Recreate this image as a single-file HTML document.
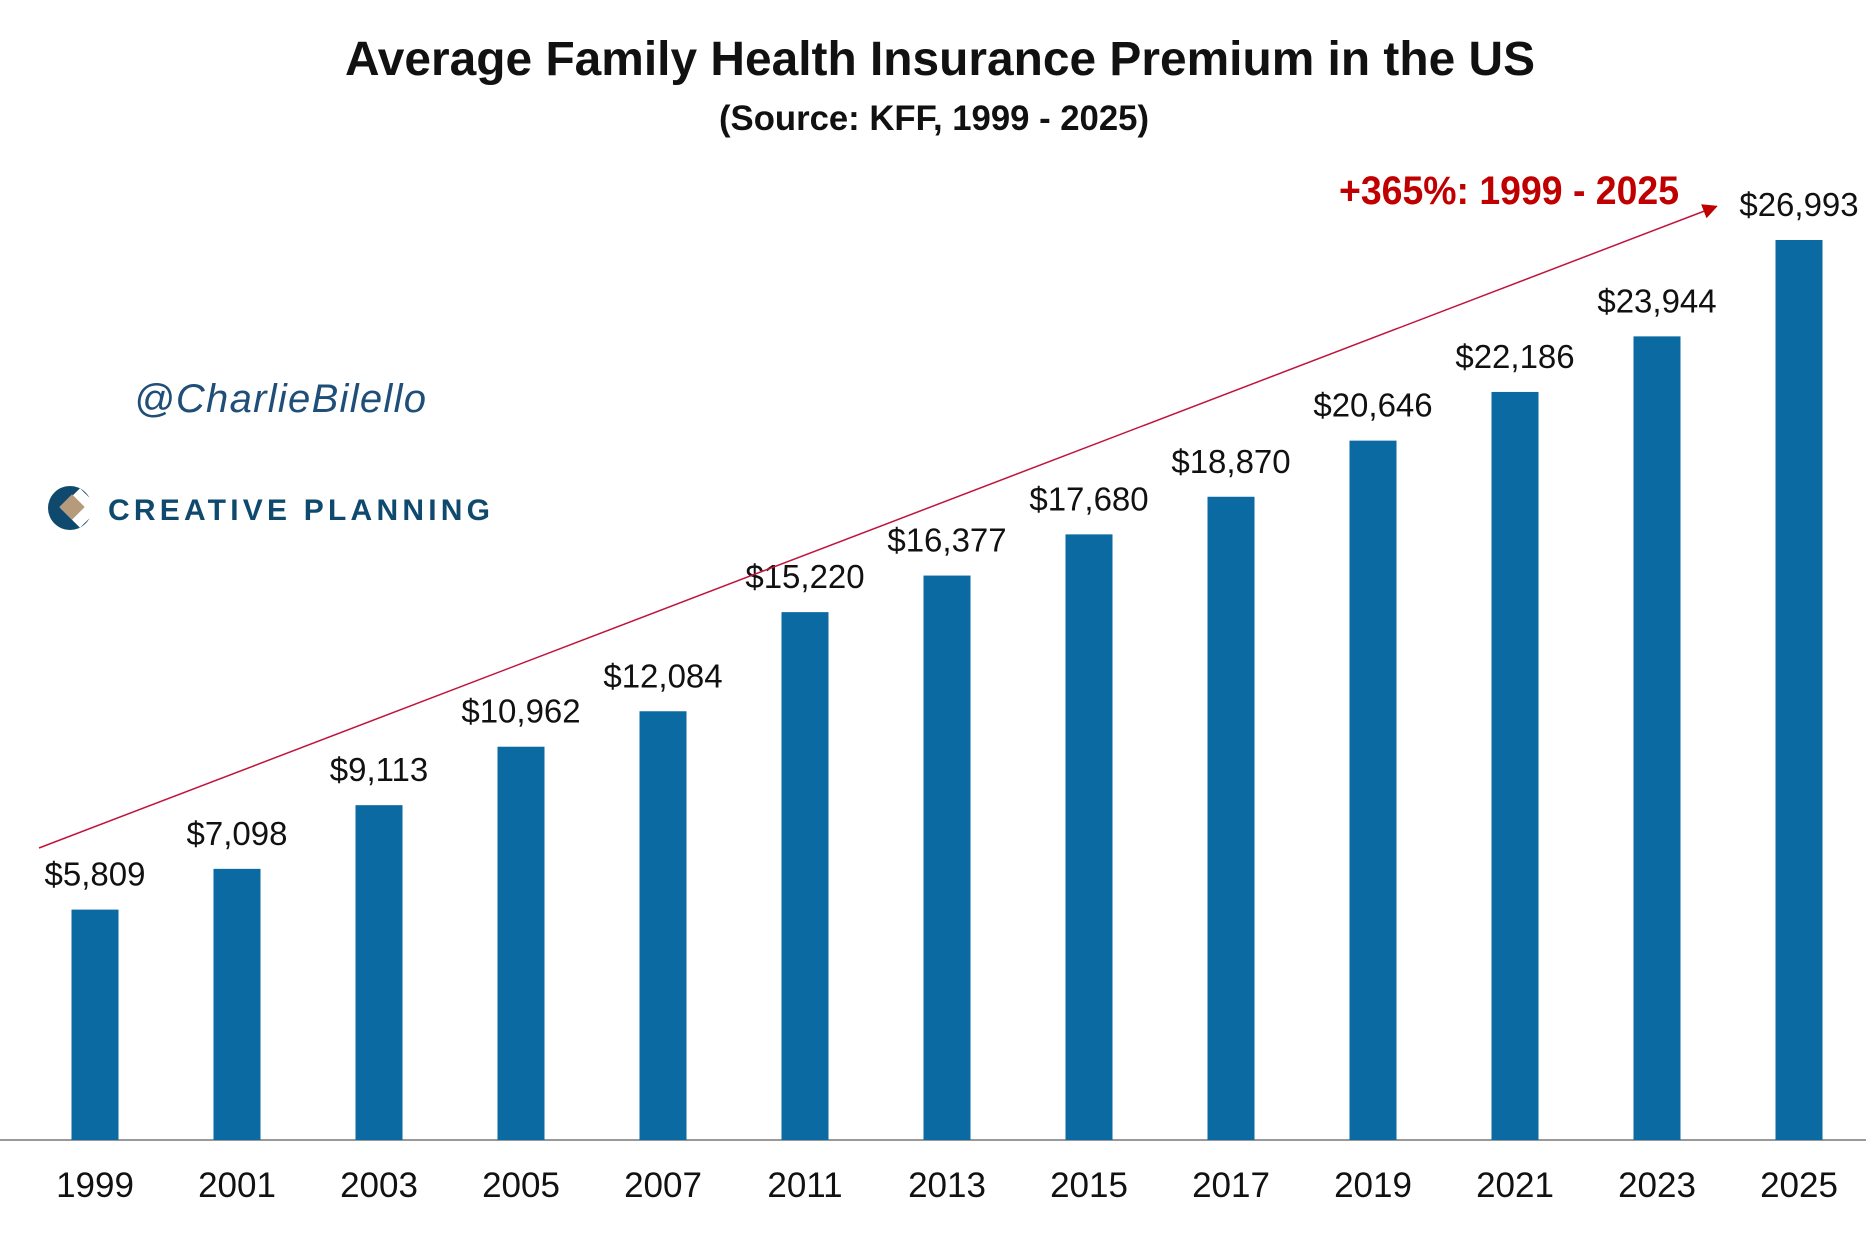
<!DOCTYPE html>
<html><head><meta charset="utf-8"><style>
html,body{margin:0;padding:0;background:#fff;}
svg{display:block;font-family:"Liberation Sans",sans-serif;}
</style></head><body>
<svg id="chart" width="1866" height="1246" viewBox="0 0 1866 1246">
<text x="940" y="75" text-anchor="middle" font-size="48" font-weight="bold" fill="#111" textLength="1190" lengthAdjust="spacingAndGlyphs">Average Family Health Insurance Premium in the US</text>
<text x="934" y="130" text-anchor="middle" font-size="35" font-weight="bold" fill="#111" textLength="430" lengthAdjust="spacingAndGlyphs">(Source: KFF, 1999 - 2025)</text>
<text x="134" y="412" font-size="40" font-style="italic" fill="#1f4e79" textLength="292">@CharlieBilello</text>
<g>
<circle cx="70" cy="508" r="22" fill="#0f4a6e"/>
<rect x="66" y="494" width="28" height="28" fill="#fff" transform="rotate(45 80 508)"/>
<rect x="63" y="498" width="18" height="18" fill="#b59a7c" transform="rotate(45 72 507)"/>
<text x="108" y="520" font-size="30" font-weight="bold" fill="#0f4a6e" letter-spacing="3" textLength="385">CREATIVE PLANNING</text>
</g>
<line x1="0" y1="1140" x2="1866" y2="1140" stroke="#999" stroke-width="2"/>
<g id="bars"></g>
<defs><marker id="ah" markerWidth="10" markerHeight="10" refX="8" refY="5" orient="auto"><path d="M0,0 L10,5 L0,10 z" fill="#c00000"/></marker></defs>
<line x1="39" y1="848" x2="1715" y2="207" stroke="#c0143c" stroke-width="1.5" marker-end="url(#ah)"/>
<text x="1339" y="204" font-size="40" font-weight="bold" fill="#c00000" textLength="340" lengthAdjust="spacingAndGlyphs">+365%: 1999 - 2025</text>
</svg>
<script>
const categories = ["1999","2001","2003","2005","2007","2011","2013","2015","2017","2019","2021","2023","2025"];
const values = [5809,7098,9113,10962,12084,15220,16377,17680,18870,20646,22186,23944,26993];
const valueLabels = ["$5,809","$7,098","$9,113","$10,962","$12,084","$15,220","$16,377","$17,680","$18,870","$20,646","$22,186","$23,944","$26,993"];

const NS="http://www.w3.org/2000/svg";
const g=document.getElementById('bars');
const baseY=1140, midX=947, stepX=142, barW=47;
const dMin=-1480, dMax=26993, topY=240;
function xPos(i){return midX+stepX*(i-(categories.length-1)/2);}
function yPos(v){return baseY-(v-dMin)/(dMax-dMin)*(baseY-topY);}
categories.forEach((c,i)=>{
  const x=xPos(i), y=yPos(values[i]);
  const r=document.createElementNS(NS,'rect');
  r.setAttribute('x',x-barW/2);r.setAttribute('y',y);r.setAttribute('width',barW);r.setAttribute('height',baseY-y);r.setAttribute('fill','#0a6aa1');
  
  
  g.appendChild(r);
  const t=document.createElementNS(NS,'text');
  t.setAttribute('x',x);t.setAttribute('y',y-24);t.setAttribute('text-anchor','middle');t.setAttribute('font-size','33');t.setAttribute('fill','#111');
  t.textContent=valueLabels[i];
  
  
  g.appendChild(t);
  const yl=document.createElementNS(NS,'text');
  yl.setAttribute('x',x);yl.setAttribute('y',1197);yl.setAttribute('text-anchor','middle');yl.setAttribute('font-size','35');yl.setAttribute('fill','#111');
  yl.textContent=c;
  
  
  g.appendChild(yl);
});
</script>
</body></html>
